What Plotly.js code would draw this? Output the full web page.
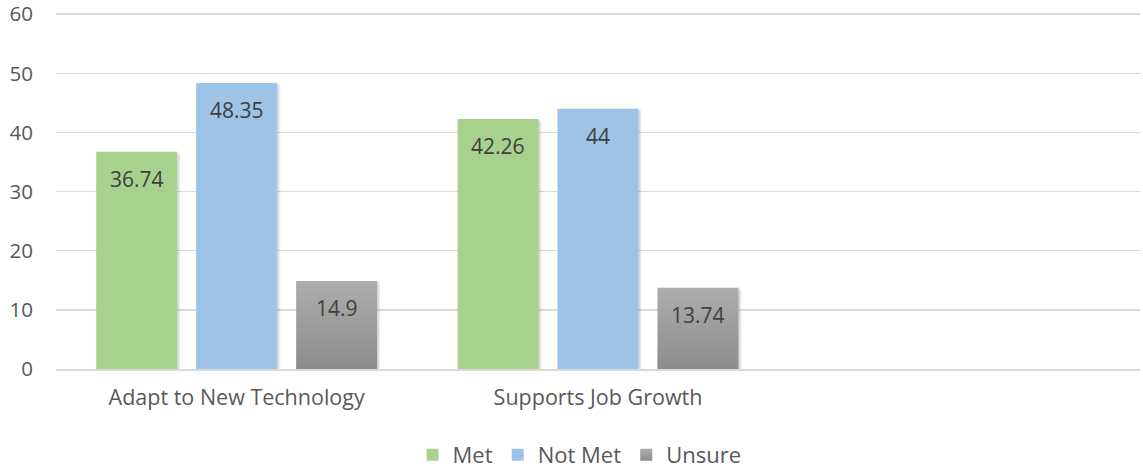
<!DOCTYPE html>
<html>
<head>
<meta charset="utf-8">
<script src="https://cdn.plot.ly/plotly-3.0.1.min.js"></script>
<style>
  html, body { margin: 0; padding: 0; background: #fff; }
  #chart { width: 1143px; height: 473px; }
</style>
</head>
<body>
<div id="chart"></div>
<script>
// chart data
const categories = ["Adapt to New Technology", "Supports Job Growth"];
const seriesNames = ["Met", "Not Met", "Unsure"];
const metVals = [36.74, 42.26];
const notMetVals = [48.35, 44];
const unsureVals = [14.9, 13.74];
const colors = ["#a9d18e", "#9dc3e6", "#a0a0a0"];

const allVals = [metVals, notMetVals, unsureVals];
const font = "'Open Sans', Lato, sans-serif";

let traces = allVals.map((vals, i) => ({
  type: "bar",
  name: seriesNames[i],
  x: categories,
  y: vals,
  marker: {color: colors[i], line: {width: 0}},
  hoverinfo: "none"
}));

// value labels sit a bit below the bar top
let annotations = [];
allVals.forEach((vals, i) => {
  vals.forEach((v, j) => {
    annotations.push({
      x: categories[j], y: v, xref: "x", yref: "y",
      text: String(v), showarrow: false,
      xshift: (i - 1) * 100, yshift: -27,
      font: {family: font, size: 21, color: "#404040"}
    });
  });
});

let layout = {
  width: 1143, height: 473,
  margin: {l: 56, r: 3, t: 13, b: 104},
  paper_bgcolor: "#fff", plot_bgcolor: "#fff",
  barmode: "group",
  bargap: 0.17,
  bargroupgap: 0.19,
  showlegend: true,
  legend: {
    orientation: "h", x: 0.483, xanchor: "center",
    yref: "container", y: 0.038, yanchor: "middle",
    font: {family: font, size: 22, color: "#595959"},
    itemclick: false
  },
  xaxis: {
    type: "category",
    range: [-0.5, 2.5],
    showgrid: false,
    showline: true, linecolor: "#d9d9d9", linewidth: 1.5,
    ticks: "", ticklabelstandoff: 9,
    tickfont: {family: font, size: 21.5, color: "#595959"}
  },
  yaxis: {
    range: [0, 60.2], dtick: 10,
    showgrid: true, gridcolor: "#d9d9d9", gridwidth: 1.5,
    zeroline: false, showline: false,
    ticks: "", ticklabelstandoff: 22,
    ticklabeloverflow: "allow",
    tickfont: {family: font, size: 20.5, color: "#595959"}
  },
  annotations: annotations
};

Plotly.newPlot("chart", traces, layout, {displayModeBar: false, staticPlot: true}).then(() => {
  // gradient for the gray bars and a soft shadow under all bars
  const svg = document.querySelector("#chart .main-svg");
  const ns = "http://www.w3.org/2000/svg";
  let defs = svg.querySelector("defs") || svg.insertBefore(document.createElementNS(ns, "defs"), svg.firstChild);
  defs.innerHTML += '<linearGradient id="grayGrad" x1="0" y1="0" x2="0" y2="1">' +
    '<stop offset="0" stop-color="#adadad"/><stop offset="1" stop-color="#8c8c8c"/></linearGradient>' +
    '<filter id="barShadow" x="-10%" y="-10%" width="130%" height="130%">' +
    '<feDropShadow dx="1.5" dy="1.5" stdDeviation="1.2" flood-color="#000" flood-opacity="0.25"/></filter>';
  document.querySelectorAll("#chart .barlayer .trace").forEach((tr, i) => {
    tr.querySelectorAll("path").forEach(p => {
      p.style.filter = "url(#barShadow)";
      if (i === 2) p.style.fill = "url(#grayGrad)";
    });
  });
  const legPts = document.querySelectorAll("#chart .legend .traces");
  if (legPts[2]) legPts[2].querySelectorAll("path").forEach(p => p.style.fill = "url(#grayGrad)");
});
</script>
</body>
</html>
